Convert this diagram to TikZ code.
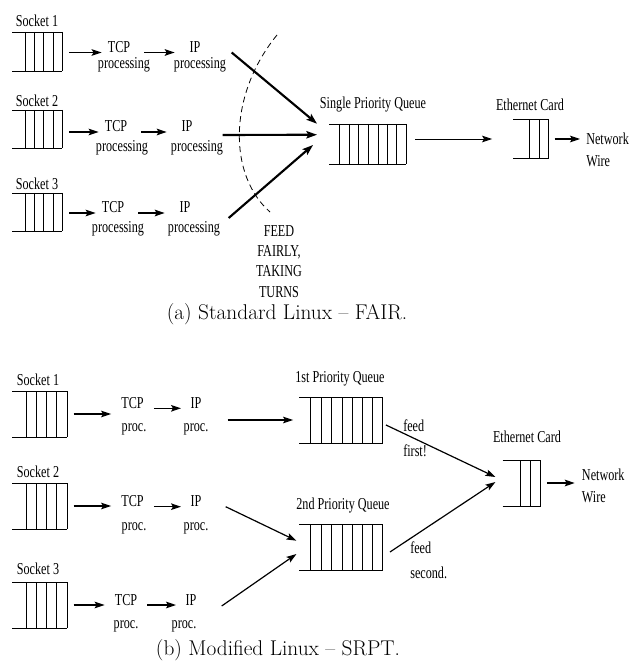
\documentclass[tikz,border=0pt]{standalone}
\usepackage{fontspec}
\newfontfamily\narrowserif[FakeStretch=0.73]{Liberation Serif}
\usetikzlibrary{arrows.meta,calc,fit}

\begin{document}
\begin{tikzpicture}[x=0.75pt, y=-0.75pt,
    font=\narrowserif\fontsize{12.5}{15}\selectfont,
    every node/.style={inner sep=0pt},
    word/.style={anchor=base},
    stack/.style={align=left, anchor=base west, font=\narrowserif\fontsize{12.5}{16.3}\selectfont},
    slot/.style={line width=0.7pt},
    arr/.style={-{Stealth[length=7.5pt,width=5pt,inset=1.5pt]}, line width=0.9pt},
    fatarr/.style={-{Stealth[length=8pt,width=5.5pt,inset=1.5pt]}, line width=1.6pt},
    thinarr/.style={-{Stealth[length=7.5pt,width=5pt,inset=1.5pt]}, line width=0.7pt},
    caption/.style={font=\rmfamily\fontsize{16}{19}\selectfont}]
  \useasboundingbox (0,0) rectangle (631,666);

  % ---------- (a) Standard Linux ----------
  % socket queues
  \foreach \t/\b in {32/71, 110/148, 193/231} {
    \draw[slot] (12,\t) -- (62.3,\t) (12,\b) -- (62.3,\b);
    \foreach \x in {25,34.3,43.7,53,62.3}
      \draw[slot] (\x,\t) -- (\x,\b);
  }
  \node[fit={(12,32)(62.3,71)}] (s1) {};
  \node[fit={(12,110)(62.3,148)}] (s2) {};
  \node[fit={(12,193)(62.3,231)}] (s3) {};
  \node (s1lbl) at (37,21) {Socket 1};
  \node (s2lbl) at (37,101) {Socket 2};
  \node (s3lbl) at (37,184) {Socket 3};

  % processing steps
  \node[word] (tcp1) at (119,52.5) {TCP};
  \node[word] (tcp1p) at (124,69) {processing};
  \node[word] (ip1) at (195,52.5) {IP};
  \node[word] (ip1p) at (200,69) {processing};
  \node[word] (tcp2) at (116,132) {TCP};
  \node[word] (tcp2p) at (122,151.5) {processing};
  \node[word] (ip2) at (187,132) {IP};
  \node[word] (ip2p) at (197,151.5) {processing};
  \node[word] (tcp3) at (113,213) {TCP};
  \node[word] (tcp3p) at (118,233) {processing};
  \node[word] (ip3) at (185,213) {IP};
  \node[word] (ip3p) at (194,233) {processing};

  \foreach \k in {1,2,3} {
    \draw[arr, shorten <=5pt, shorten >=4.5pt] (s\k.east |- tcp\k.base west) -- (tcp\k.base west);
    \draw[arr, shorten <=10.5pt, shorten >=11pt] (tcp\k.base east) -- (ip\k.base west);
  }

  % single priority queue
  \draw[slot] (329.3,124) -- (406,124) (329.3,164) -- (406,164);
  \foreach \x in {339.3,349.3,358.7,368.3,378,387.3,396.7,406}
    \draw[slot] (\x,124) -- (\x,164);
  \node[fit={(329.3,124)(406,164)}] (spq) {};
  \node (spqlbl) at (373,105) {Single Priority Queue};

  % feeding, fairly
  \draw[fatarr] ($(ip1.base east)+(31,0)$) -- ($(spq.north west)+(-12,0)$);
  \draw[fatarr] ($(ip2.base east)+(30,3)$) -- ($(spq.north west)+(-12,11)$);
  \draw[fatarr] ($(ip3.base east)+(38,5)$) -- ($(spq.west)+(-16,1)$);
  \draw[dashed, dash pattern=on 4.5pt off 3pt, line width=0.6pt]
    (277,35) .. controls (228,95) and (228,175) .. (270,212);
  \node[align=center, anchor=base, font=\narrowserif\fontsize{12.5}{15.25}\selectfont] (fair) at (279,297)
    {FEED\\FAIRLY,\\TAKING\\TURNS};

  % ethernet card
  \draw[slot] (513.3,119.3) -- (548.3,119.3) (513.3,158.7) -- (548.3,158.7);
  \foreach \x in {529.3,539,548.3}
    \draw[slot] (\x,119.3) -- (\x,158.7);
  \node[fit={(513.3,119.3)(548.3,158.7)}] (eth) {};
  \node (ethlbl) at (530,105) {Ethernet Card};
  \node[stack] (net) at (586,166.5) {Network\\Wire};

  \draw[thinarr, shorten <=6.75pt, shorten >=15.75pt] (spq.east |- eth.west) -- (eth.west);
  \draw[arr, shorten <=4.5pt, shorten >=4.5pt] (eth.east) -- (eth.east -| net.west);

  \node[caption] (capa) at (287,314) {(a) Standard Linux \textendash{} FAIR.};

  % ---------- (b) Modified Linux ----------
  % socket queues
  \foreach \t/\b in {391/437, 483/529, 582/628} {
    \draw[slot] (12,\t) -- (67.3,\t) (12,\b) -- (67.3,\b);
    \foreach \x in {26,36,46.7,56.7,67.3}
      \draw[slot] (\x,\t) -- (\x,\b);
  }
  \node[fit={(12,391)(67.3,437)}] (sb1) {};
  \node[fit={(12,483)(67.3,529)}] (sb2) {};
  \node[fit={(12,582)(67.3,628)}] (sb3) {};
  \node (sb1lbl) at (38,380) {Socket 1};
  \node (sb2lbl) at (38,472) {Socket 2};
  \node (sb3lbl) at (38,569) {Socket 3};

  % processing steps
  \node[word] (tcpb1) at (132.5,408.3) {TCP};
  \node[word] (tcpb1p) at (134,431.7) {proc.};
  \node[word] (ipb1) at (196,408.3) {IP};
  \node[word] (ipb1p) at (196,431.7) {proc.};
  \node[word] (tcpb2) at (132.5,506.7) {TCP};
  \node[word] (tcpb2p) at (134,530) {proc.};
  \node[word] (ipb2) at (196,506.7) {IP};
  \node[word] (ipb2p) at (196,530) {proc.};
  \node[word] (tcpb3) at (126,605) {TCP};
  \node[word] (tcpb3p) at (126,628.5) {proc.};
  \node[word] (ipb3) at (191,605) {IP};
  \node[word] (ipb3p) at (184,628.5) {proc.};

  \foreach \k in {1,2,3} {
    \draw[arr, shorten <=4.5pt, shorten >=7.5pt] (sb\k.east) -- (sb\k.east -| tcpb\k.west);
    \draw[arr, shorten <=7.5pt, shorten >=7pt] (tcpb\k.base east) -- (ipb\k.base west);
  }

  % priority queues
  \foreach \t/\b in {397/443, 524/570} {
    \draw[slot] (299.3,\t) -- (382.7,\t) (299.3,\b) -- (382.7,\b);
    \foreach \x in {310,321,331.7,342,352.3,362.7,372.7,382.7}
      \draw[slot] (\x,\t) -- (\x,\b);
  }
  \node[fit={(299.3,397)(382.7,443)}] (qb1) {};
  \node[fit={(299.3,524)(382.7,570)}] (qb2) {};
  \node (qb1lbl) at (340,379) {1st Priority Queue};
  \node (qb2lbl) at (343,506) {2nd Priority Queue};

  \draw[arr, shorten <=19.5pt, shorten >=4.5pt] (ipb1.east |- qb1.west) -- (qb1.west);
  \draw[arr] ($(ipb2.base east)+(24,0)$) -- ($(qb2.west)+(-2.6,-6.3)$);
  \draw[arr] ($(ipb3.base east)+(25,1)$) -- ($(qb2.west)+(-2.6,7)$);

  % ethernet card
  \draw[slot] (502.7,460) -- (540.7,460) (502.7,506) -- (540.7,506);
  \foreach \x in {520,530,540.7}
    \draw[slot] (\x,460) -- (\x,506);
  \node[fit={(502.7,460)(540.7,506)}] (ethb) {};
  \node (ethblbl) at (527,437) {Ethernet Card};
  \node[stack] (netb) at (581.7,502) {Network\\Wire};

  % feeding by priority
  \draw[arr] ($(qb1.east)+(3,5)$) -- ($(ethb.west)+(-7,-6)$);
  \draw[arr] ($(qb2.east)+(7,5)$) -- ($(ethb.west)+(-7,-1)$);
  \node[stack, font=\narrowserif\fontsize{12.5}{18.75}\selectfont] (first) at (403,456.7) {feed\\first!};
  \node[stack, font=\narrowserif\fontsize{12.5}{18.75}\selectfont] (second) at (410,578.3) {feed\\second.};
  \draw[arr, shorten <=4.5pt, shorten >=5.25pt] (ethb.east) -- (ethb.east -| netb.west);

  \node[caption] (capb) at (278,650) {(b) Modified Linux \textendash{} SRPT.};
\end{tikzpicture}
\end{document}
